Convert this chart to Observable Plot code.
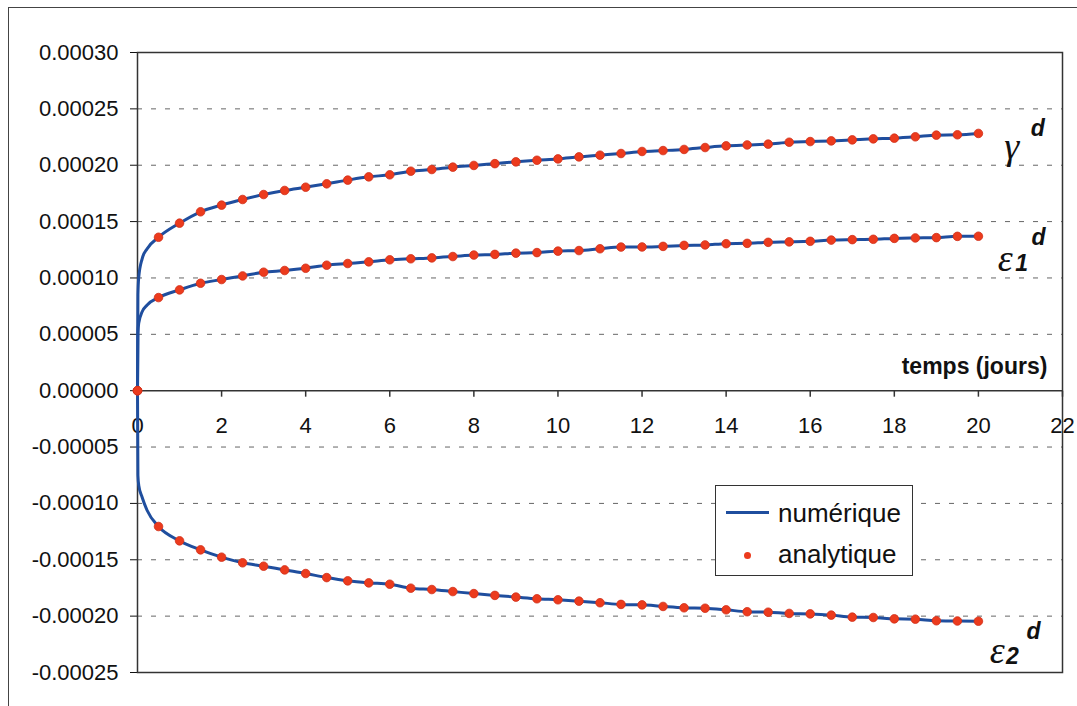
<!DOCTYPE html>
<html>
<head>
<meta charset="utf-8">
<script src="https://cdn.jsdelivr.net/npm/d3@7"></script>
<script src="https://cdn.jsdelivr.net/npm/@observablehq/plot@0.6"></script>
<style>
  html, body { margin: 0; padding: 0; background: #fff; overflow: hidden; }
  #wrap { position: relative; width: 1077px; height: 706px; }
  #outer { position: absolute; left: 8px; top: 7px; width: 1100px; height: 740px; border: 1.5px solid #444; pointer-events: none; }
  #legend { position: absolute; left: 715px; top: 485px; width: 196px; height: 89px; border: 1.2px solid #333; background: #fff;
            font-family: "Liberation Sans", Arial, sans-serif; font-size: 26px; color: #111; }
  #legend .lab { position: absolute; left: 62px; line-height: 30px; }
  #legend .ln { position: absolute; left: 10px; top: 25px; width: 43px; height: 3px; background: #1f4e9e; }
  #legend .dt { position: absolute; left: 28px; top: 66px; width: 7px; height: 7px; border-radius: 50%; background: #ec3b1d; }
</style>
</head>
<body>
<div id="wrap">
  <div id="chart"></div>
  <div id="outer"></div>
  <div id="legend">
    <div class="ln"></div><div class="lab" style="top:12px">numérique</div>
    <div class="dt"></div><div class="lab" style="top:53px">analytique</div>
  </div>
</div>
<script>
// ---- data (values in units of 1e-4) ----
const days = [0, 0.5, 1, 1.5, 2, 2.5, 3, 3.5, 4, 4.5, 5, 5.5, 6, 6.5, 7, 7.5, 8, 8.5, 9, 9.5, 10,
              10.5, 11, 11.5, 12, 12.5, 13, 13.5, 14, 14.5, 15, 15.5, 16, 16.5, 17, 17.5, 18, 18.5, 19, 19.5, 20];
const gammaD = [0, 1.361, 1.486, 1.587, 1.646, 1.696, 1.740, 1.776, 1.805, 1.835, 1.868, 1.897, 1.915, 1.947, 1.962, 1.983, 1.998,
                2.014, 2.030, 2.044, 2.056, 2.074, 2.089, 2.104, 2.122, 2.130, 2.140, 2.157, 2.172, 2.180, 2.187, 2.204, 2.210,
                2.216, 2.225, 2.234, 2.240, 2.252, 2.267, 2.270, 2.282];
const eps1D = [0, 0.826, 0.894, 0.953, 0.986, 1.018, 1.051, 1.066, 1.086, 1.113, 1.128, 1.143, 1.161, 1.170, 1.178, 1.190, 1.203,
               1.209, 1.220, 1.225, 1.238, 1.243, 1.259, 1.274, 1.275, 1.280, 1.289, 1.293, 1.304, 1.307, 1.316, 1.320, 1.325,
               1.336, 1.340, 1.343, 1.351, 1.355, 1.358, 1.369, 1.370];
const eps2D = [0, -1.205, -1.332, -1.412, -1.477, -1.527, -1.557, -1.590, -1.622, -1.658, -1.687, -1.705, -1.717, -1.752, -1.764,
               -1.782, -1.800, -1.816, -1.831, -1.846, -1.855, -1.867, -1.881, -1.896, -1.900, -1.914, -1.926, -1.930, -1.944,
               -1.961, -1.965, -1.976, -1.980, -1.991, -2.009, -2.012, -2.024, -2.027, -2.041, -2.043, -2.045];
// early part of the numerical solution (steep start)
const earlyDays  = [0.01, 0.03, 0.11, 0.23];
const gammaEarly = [0.85, 1.007, 1.17, 1.26];
const eps1Early  = [0.50, 0.60, 0.70, 0.76];
const eps2Early  = [-0.75, -0.84, -0.945, -1.063];

const yTicks = [0.0003, 0.00025, 0.0002, 0.00015, 0.0001, 0.00005, 0, -0.00005, -0.0001, -0.00015, -0.0002, -0.00025];
const gridVals = [0.00025, 0.0002, 0.00015, 0.0001, 0.00005, -0.00005, -0.0001, -0.00015, -0.0002];
const xTicks = [0, 2, 4, 6, 8, 10, 12, 14, 16, 18, 20, 22];

const U = 1e-4;
const seriesDefs = [
  {name: "gamma", pts: gammaD, early: gammaEarly},
  {name: "eps1", pts: eps1D, early: eps1Early},
  {name: "eps2", pts: eps2D, early: eps2Early}
];
const analytic = [];
const numeric = [];
for (const s of seriesDefs) {
  days.forEach((t, i) => analytic.push({series: s.name, t, v: s.pts[i] * U}));
  const rows = days.map((t, i) => ({series: s.name, t, v: s.pts[i] * U}));
  earlyDays.forEach((t, i) => rows.push({series: s.name, t, v: s.early[i] * U}));
  rows.sort((a, b) => a.t - b.t);
  numeric.push(...rows);
}

// annotations (data coordinates)
const greek = [
  {t: 20.79, v: 0.0002166, s: "γ"},
  {t: 20.64, v: 0.0001173, s: "ε"},
  {t: 20.45, v: -0.0002305, s: "ε"}
];
const supers = [
  {t: 21.41, v: 0.0002326, s: "d"},
  {t: 21.03, v: 0.0001128, s: "1"},
  {t: 21.43, v: 0.0001359, s: "d"},
  {t: 20.81, v: -0.0002358, s: "2"},
  {t: 21.31, v: -0.0002136, s: "d"}
];
const axisTitle = [{t: 21.64, v: 0.0000215, s: "temps (jours)"}];

const tickSym = {draw(ctx) { ctx.moveTo(0, 0); ctx.lineTo(0, 6); }};

const chart = Plot.plot({
  width: 1077,
  height: 706,
  marginLeft: 137,
  marginRight: 15,
  marginTop: 52,
  marginBottom: 34,
  style: {fontFamily: "'Liberation Sans', Arial, sans-serif", fontSize: "22px", background: "white", color: "#111"},
  x: {domain: [0, 22], axis: null},
  y: {domain: [-0.00025, 0.0003], ticks: yTicks, tickFormat: d => d.toFixed(5), tickSize: 7, tickPadding: 12, label: null},
  marks: [
    Plot.ruleY(gridVals, {stroke: "#666", strokeWidth: 1, strokeDasharray: "5,9"}),
    Plot.frame({stroke: "#333", strokeWidth: 1.5}),
    Plot.ruleY([0], {stroke: "#333", strokeWidth: 1.5}),
    Plot.dot(xTicks, {x: d => d, y: 0, symbol: tickSym, fill: "none", stroke: "#333", strokeWidth: 1.5}),
    Plot.text(xTicks, {x: d => d, y: 0, text: d => String(d), dy: 35, fontSize: 22, fill: "#111"}),
    Plot.line(numeric, {x: "t", y: "v", z: "series", curve: "monotone-x", stroke: "#1f4e9e", strokeWidth: 3}),
    Plot.dot(analytic, {x: "t", y: "v", r: 4.3, fill: "#ec3b1d", stroke: "#d0301a", strokeWidth: 0.8}),
    Plot.text(greek, {x: "t", y: "v", text: "s", fontFamily: "'Liberation Serif', serif", fontStyle: "italic", fontSize: 38, fill: "#111"}),
    Plot.text(supers, {x: "t", y: "v", text: "s", fontFamily: "'Liberation Sans', Arial, sans-serif", fontStyle: "italic", fontWeight: "bold", fontSize: 23, fill: "#111"}),
    Plot.text(axisTitle, {x: "t", y: "v", text: "s", textAnchor: "end", fontWeight: "bold", fontSize: 23, fill: "#111"})
  ]
});
document.getElementById("chart").appendChild(chart);
</script>
</body>
</html>
